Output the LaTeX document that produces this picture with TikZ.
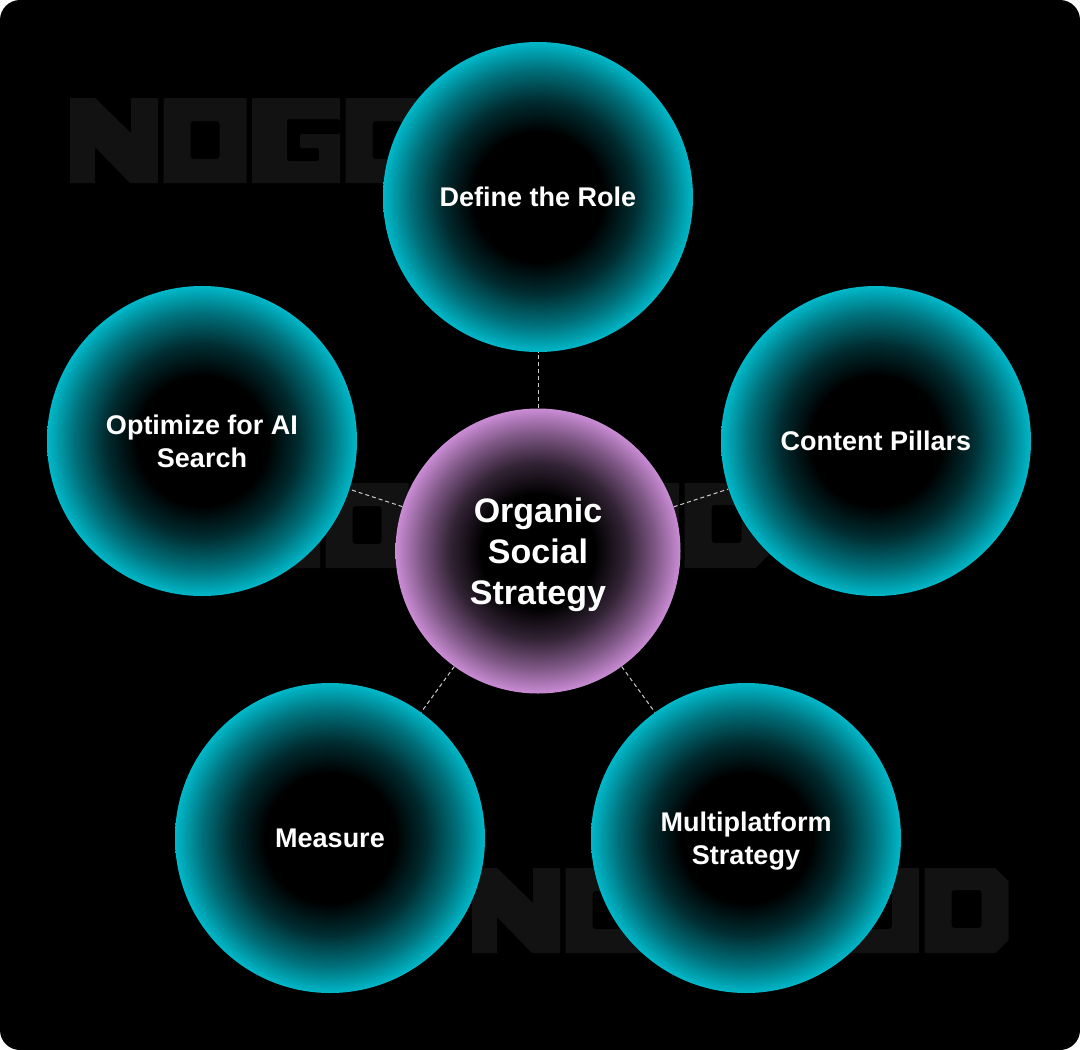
\documentclass[tikz,border=0pt]{standalone}
\usepackage{fontspec}
\setmainfont{Liberation Sans}
\definecolor{cyanedge}{HTML}{00B8C9}
\definecolor{pinkedge}{HTML}{CA8CD5}
\definecolor{wmgray}{HTML}{121212}
\colorlet{cyA}{cyanedge!24!black}
\colorlet{cyB}{cyanedge!60!black}
\colorlet{pkA}{pinkedge!25!black}
\colorlet{pkB}{pinkedge!62!black}
\pgfdeclareradialshading{cyanball}{\pgfpoint{0bp}{0bp}}{color(0bp)=(black); color(10.5bp)=(black); color(15.5bp)=(cyA); color(20.5bp)=(cyB); color(25bp)=(cyanedge); color(50bp)=(cyanedge)}
\pgfdeclareradialshading{pinkball}{\pgfpoint{0bp}{0bp}}{color(0bp)=(black); color(10bp)=(black); color(15.5bp)=(pkA); color(20.5bp)=(pkB); color(25bp)=(pinkedge); color(50bp)=(pinkedge)}
\newcommand\wmlogo[2]{%
  \begin{scope}[shift={(#1,#2)}]
    \fill[wm] (0,0) -- (25,0) -- (61,35) -- (61,0) -- (88,0) -- (88,85) -- (60,85) -- (25,49) -- (25,85) -- (0,85) -- cycle;
    \fill[wm, even odd rule] (93.5,0) rectangle ++(83,85) [rounded corners=3pt] (120.5,23) rectangle ++(29,38);
    \fill[wm, even odd rule] (182,0) rectangle ++(88,85) [rounded corners=2pt] (217,21) -- (270,21) -- (270,36) -- (230,36) -- (230,50) -- (249,50) -- (249,63) -- (217,63) -- cycle;
    \fill[wm, even odd rule] (275.5,0) rectangle ++(83,85) [rounded corners=3pt] (302.5,23) rectangle ++(29,38);
    \fill[wm, even odd rule] (364,0) rectangle ++(83,85) [rounded corners=3pt] (391,23) rectangle ++(29,38);
    \fill[wm, even odd rule] (452.5,0) -- (523.5,0) -- (536.5,13) -- (536.5,72) -- (523.5,85) -- (452.5,85) -- cycle [rounded corners=3pt] (479.5,22) rectangle ++(30,38);
  \end{scope}}
\begin{document}
\begin{tikzpicture}[x=1pt, y=-1pt,
  wm/.style={fill=wmgray},
  outerball/.style={circle, minimum size=310pt, inner sep=0pt, shading=cyanball, text=white, font=\bfseries\fontsize{27pt}{33pt}\selectfont, align=center, text depth=0pt},
  centerball/.style={circle, minimum size=285pt, inner sep=0pt, shading=pinkball, text=white, font=\bfseries\fontsize{34pt}{41pt}\selectfont, align=center, text depth=0pt},
  conn/.style={draw=white!80!black, line width=1pt, dash pattern=on 4pt off 3pt}]
\useasboundingbox (0,0) rectangle (1080,1050);
\fill[white] (0,0) rectangle (1080,1050);
\fill[black, rounded corners=20pt] (0,0) rectangle (1080,1050);
\wmlogo{70}{98}
\wmlogo{232}{483}
\wmlogo{472}{868}
\node[outerball] (role) at (538,197) {Define the Role};
\node[outerball] (ai) at (202,441) {Optimize for AI\\Search};
\node[outerball] (pillars) at (876,441) {Content Pillars};
\node[outerball] (measure) at (330,838) {Measure};
\node[outerball] (multi) at (746,838) {Multiplatform\\Strategy};
\node[centerball] (core) at (538,551) {Organic\\Social\\Strategy};
\draw[conn] (core) -- (role);
\draw[conn] (core) -- (ai);
\draw[conn] (core) -- (pillars);
\draw[conn] (core) -- (measure);
\draw[conn] (core) -- (multi);
\end{tikzpicture}
\end{document}
